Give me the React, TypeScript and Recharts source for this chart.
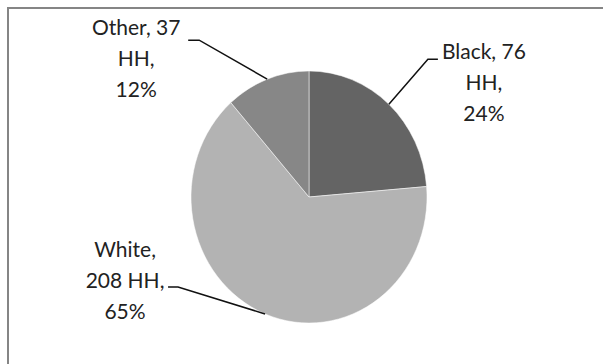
import { PieChart, Pie, Cell } from "recharts"

const categories = ["Black", "White", "Other"]
const households = [76, 208, 37]
const sliceColors = ["#646464", "#b3b3b3", "#878787"]
// how many words go on each wrapped label line
const labelLineWords = [
  [2, 1, 1],
  [1, 2, 1],
  [2, 1, 1],
]

const data = categories.map((name, i) => ({ name, value: households[i] }))

const CX = 309
const CY = 197
const R = 118
const SQUASH = 1.068 // the source pie is slightly taller than wide

// leader line elbow / end, and text anchor, relative to the slice edge
const leaders: Record<string, { ex: number; ey: number; hx: number; tx: number; ty: number }> = {
  Black: { ex: 39, ey: -45, hx: 10, tx: 46, ty: 0 },
  White: { ex: -87, ey: -27, hx: -10, tx: -43, ty: -30 },
  Other: { ex: -68, ey: -39, hx: -11, tx: -52, ty: -5 },
}

const RAD = Math.PI / 180
const LINE_H = 31

const renderLabel = (props: any) => {
  const { cx, cy, midAngle, outerRadius, name, value, percent, index } = props
  const px = cx + outerRadius * Math.cos(-midAngle * RAD)
  const py = cy + outerRadius * SQUASH * Math.sin(-midAngle * RAD)
  const l = leaders[name]
  const elbowX = px + l.ex
  const elbowY = py + l.ey
  const endX = elbowX + l.hx
  const words = [`${name},`, `${value}`, "HH,", `${Math.round(percent * 100)}%`]
  const lines: string[] = []
  let w = 0
  for (const n of labelLineWords[index]) {
    lines.push(words.slice(w, w + n).join(" "))
    w += n
  }
  const textX = endX + l.tx
  const textY = elbowY + l.ty
  return (
    <g key={name}>
      <polyline
        points={`${px},${py} ${elbowX},${elbowY} ${endX},${elbowY}`}
        fill="none"
        stroke="#111"
        strokeWidth={1.5}
      />
      <text x={textX} y={textY} textAnchor="middle" fill="#222" fontSize={21} fontFamily="Lato">
        {lines.map((t, i) => (
          <tspan key={i} x={textX} y={textY + i * LINE_H}>
            {t}
          </tspan>
        ))}
      </text>
    </g>
  )
}

export default function App() {
  return (
    <div
      style={{
        position: "absolute",
        left: 0,
        top: 0,
        width: 603,
        height: 364,
        overflow: "hidden",
        background: "#fff",
      }}
    >
      <style>{`
        .recharts-pie-sector path {
          transform-box: view-box;
          transform-origin: ${CX}px ${CY}px;
          transform: scaleY(${SQUASH});
        }
      `}</style>
      <div
        style={{
          position: "absolute",
          left: 7,
          top: 7,
          width: 700,
          height: 500,
          border: "2px solid #858585",
        }}
      />
      <div style={{ position: "absolute", left: 0, top: 0 }}>
        <PieChart width={603} height={364} margin={{ top: 0, right: 0, bottom: 0, left: 0 }}>
          <Pie
            data={data}
            dataKey="value"
            nameKey="name"
            cx={CX}
            cy={CY}
            outerRadius={R}
            startAngle={90}
            endAngle={-270}
            stroke="#fff"
            strokeWidth={0.5}
            label={renderLabel}
            labelLine={false}
            isAnimationActive={false}
          >
            {data.map((d, i) => (
              <Cell key={d.name} fill={sliceColors[i]} />
            ))}
          </Pie>
        </PieChart>
      </div>
    </div>
  )
}
